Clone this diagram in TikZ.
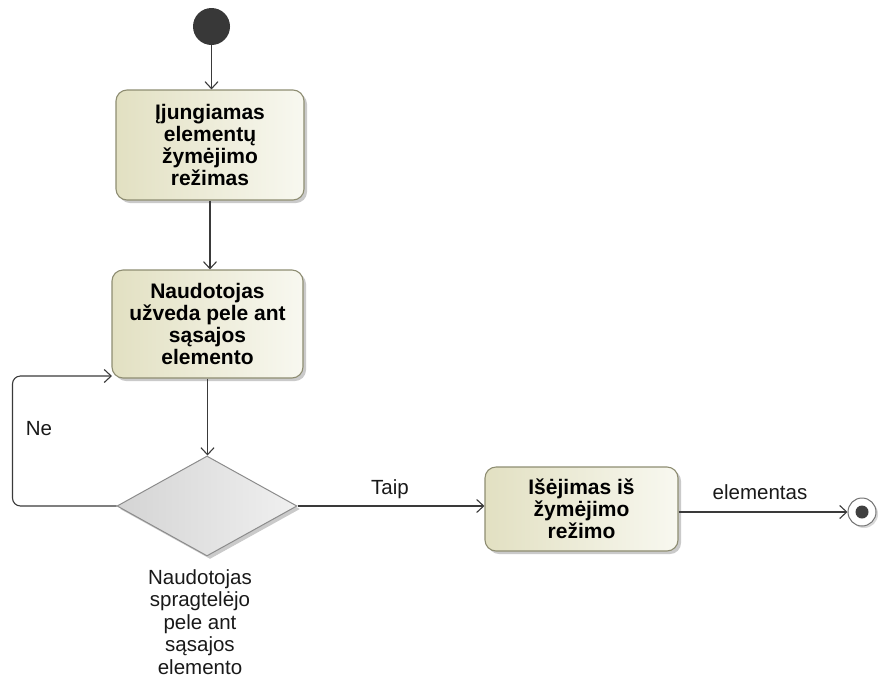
\documentclass[tikz,border=0pt]{standalone}
\usepackage{fontspec}
\setmainfont{Liberation Sans}
\usetikzlibrary{arrows.meta,shapes.geometric,shadows,calc}

\definecolor{actfillA}{HTML}{E2E0C2}
\definecolor{actfillB}{HTML}{F8F8F0}
\definecolor{actborder}{HTML}{8E8D72}
\definecolor{wire}{HTML}{3A3A3A}
\definecolor{decA}{HTML}{D4D4D4}
\definecolor{decB}{HTML}{F0F0F0}

\tikzset{
  action/.style={rectangle, rounded corners=11pt, draw=actborder, line width=1.1pt,
    left color=actfillA, right color=actfillB, align=center,
    font=\fontsize{21}{22}\selectfont\bfseries, inner sep=0pt,
    drop shadow={shadow xshift=3pt, shadow yshift=-3pt, fill=black!35, opacity=.6}},
  decision/.style={diamond, draw=black!45, line width=1pt, inner sep=0pt,
    left color=decA, right color=decB,
    drop shadow={shadow xshift=3pt, shadow yshift=-3pt, fill=black!35, opacity=.6}},
  flow/.style={draw=wire, line width=1.1pt, -{Straight Barb[length=7pt,width=13pt]}},
  lbl/.style={font=\fontsize{20.5}{22.5}\selectfont, text=black!90, inner sep=0pt, align=center},
}

\begin{document}
\begin{tikzpicture}[x=1pt, y=-1pt]
  \useasboundingbox (0,0) rectangle (883,678);

  % start and end markers
  \node (init) [circle, fill=black!78, minimum size=37pt, inner sep=0pt] at (211.5,26.5) {};
  \node (fin) [circle, draw=black!55, line width=1pt, fill=white, minimum size=28pt, inner sep=0pt,
    drop shadow={shadow xshift=2pt, shadow yshift=-2pt, fill=black!30, opacity=.5}] at (862,512) {};
  \node (fincore) [circle, fill=black!75, minimum size=13pt, inner sep=0pt] at (fin) {};

  % actions
  \node (b1) [action, minimum width=188pt, minimum height=110pt] at (210,145)
    {Įjungiamas\\elementų\\žymėjimo\\režimas};
  \node (b2) [action, minimum width=191pt, minimum height=108pt] at (207.5,324)
    {Naudotojas\\užveda pele ant\\sąsajos\\elemento};
  \node (b3) [action, minimum width=193pt, minimum height=84pt] at (581.5,509)
    {Išėjimas iš\\žymėjimo\\režimo};

  % decision
  \node (dia) [decision, minimum width=180pt, minimum height=100pt] at (207,506) {};
  \node (dlabel) [lbl] at (200,622)
    {Naudotojas\\spragtelėjo\\pele ant\\sąsajos\\elemento};

  % loop entry point on the left side of the second action
  \coordinate (loopin) at (112,376);

  % flows
  \draw[flow] (init.south) -- (init.south |- b1.north);
  \draw[flow] (b1.south) -- (b1.south |- b2.north);
  \draw[flow] (b2.south) -- (b2.south |- dia.north);
  \draw[flow, rounded corners=8pt] (dia.west) -- ++(-104,0) |- (loopin);
  \draw[flow] (dia.east) -- (dia.east -| b3.west);
  \draw[flow] (b3.east |- fin) -- (fin.west);

  % guard labels
  \node (ne) [lbl] at (39,429) {Ne};
  \node (taip) [lbl] at (390,489) {Taip};
  \node (elem) [lbl] at (760,492) {elementas};
\end{tikzpicture}
\end{document}
